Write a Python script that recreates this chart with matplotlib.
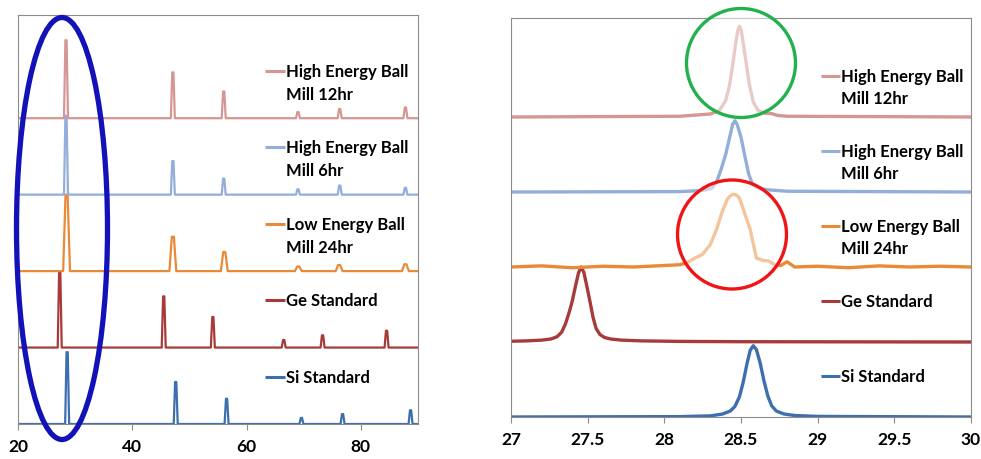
import numpy as np
import matplotlib
matplotlib.use("Agg")
import matplotlib.pyplot as plt
from matplotlib.patches import Ellipse

plt.rcParams["font.family"] = ["Lato", "DejaVu Sans"]
plt.rcParams["font.weight"] = "bold"

# ---- series (bottom to top) ----
labels = ["Si Standard", "Ge Standard", "Low Energy Ball\nMill 24hr",
          "High Energy Ball\nMill 6hr", "High Energy Ball\nMill 12hr"]
colors = ["#3D6FAE", "#A63B3A", "#E98A38", "#93AEDA", "#D69694"]
offsets = [0, 1, 2, 3, 4]

# left panel: full scan, peak positions (2θ) and heights
full_pos = [
    [28.6, 47.6, 56.5, 69.6, 76.8, 88.7],
    [27.3, 45.5, 54.1, 66.5, 73.3, 84.5],
    [28.5, 47.1, 56.1, 69.05, 76.2, 87.8],
    [28.4, 47.1, 56.0, 69.0, 76.3, 87.8],
    [28.4, 47.1, 56.0, 69.0, 76.3, 87.8],
]
full_hgt = [
    [0.94, 0.55, 0.33, 0.08, 0.13, 0.18],
    [1.00, 0.67, 0.40, 0.10, 0.16, 0.22],
    [1.00, 0.45, 0.25, 0.06, 0.08, 0.09],
    [1.03, 0.44, 0.21, 0.07, 0.12, 0.09],
    [1.02, 0.60, 0.35, 0.08, 0.12, 0.14],
]
full_hw = [0.35, 0.35, 0.6, 0.35, 0.35]

# right panel: zoom on the (111) peak
si_x = [27.0, 28.1, 28.3, 28.38, 28.43, 28.46, 28.49, 28.515, 28.54, 28.56,
        28.58, 28.60, 28.625, 28.65, 28.675, 28.7, 28.73, 28.78, 28.85, 29.0, 30.0]
si_y = [0.0, 0.005, 0.015, 0.04, 0.08, 0.14, 0.27, 0.47, 0.72, 0.89,
        0.95, 0.9, 0.72, 0.48, 0.28, 0.15, 0.08, 0.04, 0.02, 0.008, 0.0]
ge_x = [27.0, 27.1, 27.2, 27.26, 27.3, 27.33, 27.355, 27.38, 27.40, 27.42,
        27.44, 27.457, 27.475, 27.495, 27.515, 27.535, 27.555, 27.58, 27.61,
        27.65, 27.72, 27.85, 28.1, 28.5, 30.0]
ge_y = [0.01, 0.015, 0.025, 0.04, 0.07, 0.13, 0.24, 0.4, 0.55, 0.74,
        0.92, 1.0, 0.93, 0.74, 0.54, 0.33, 0.18, 0.1, 0.06,
        0.04, 0.025, 0.015, 0.008, 0.004, 0.0]
le24_x = [27.0, 27.2, 27.4, 27.6, 27.8, 28.0, 28.1, 28.15, 28.2, 28.25, 28.3,
          28.34, 28.38, 28.41, 28.43, 28.45, 28.47, 28.49, 28.52, 28.56, 28.6,
          28.64, 28.68, 28.72, 28.76, 28.8, 28.85, 29.0, 29.2, 29.4, 29.6,
          29.8, 30.0]
le24_y = [0.0, 0.015, -0.01, 0.01, 0.0, 0.02, 0.03, 0.06, 0.12, 0.17, 0.3,
          0.5, 0.75, 0.9, 0.95, 0.97, 0.96, 0.92, 0.74, 0.5, 0.12,
          0.09, 0.08, 0.03, 0.02, 0.07, 0.0, 0.01, -0.01, 0.015, 0.0,
          0.01, 0.0]
he6_x = [27.0, 28.1, 28.25, 28.31, 28.34, 28.37, 28.4, 28.425, 28.445, 28.46,
         28.475, 28.5, 28.525, 28.55, 28.575, 28.61, 28.67, 28.8, 30.0]
he6_y = [0.0, 0.005, 0.02, 0.05, 0.13, 0.3, 0.5, 0.72, 0.9, 0.95,
         0.9, 0.73, 0.48, 0.24, 0.1, 0.05, 0.03, 0.01, 0.0]
he12_x = [27.0, 28.1, 28.3, 28.36, 28.4, 28.425, 28.445, 28.465, 28.48, 28.49,
          28.5, 28.515, 28.535, 28.555, 28.58, 28.61, 28.66, 28.7, 28.74,
          28.8, 30.0]
he12_y = [0.0, 0.01, 0.04, 0.09, 0.22, 0.42, 0.68, 0.98, 1.16, 1.21,
          1.17, 0.98, 0.7, 0.43, 0.2, 0.09, 0.05, 0.045, 0.02,
          0.01, 0.0]
zoom_x = [si_x, ge_x, le24_x, he6_x, he12_x]
zoom_y = [si_y, ge_y, le24_y, he6_y, he12_y]

left_ticks = [20, 40, 60, 80]
right_ticks = [27, 27.5, 28, 28.5, 29, 29.5, 30]


def stick_trace(pos, hgt, hw, x0=20, x1=90):
    xs, ys = [x0], [0.0]
    for p, h in zip(pos, hgt):
        xs += [p - hw, p - 0.3 * hw, p + 0.3 * hw, p + hw]
        ys += [0.0, h, h, 0.0]
    xs.append(x1)
    ys.append(0.0)
    return np.array(xs), np.array(ys)


def style_axes(ax):
    for s in ax.spines.values():
        s.set_color("#8c8c8c")
    ax.set_yticks([])
    ax.tick_params(axis="x", direction="out", length=4, color="#8c8c8c",
                   labelsize=12.5, pad=6)


def add_labels(ax, lx0, lx1, up):
    tr = ax.get_yaxis_transform()
    for lab, c, off in zip(labels, colors, offsets):
        y = off + up
        ax.plot([lx0, lx1], [y, y], color=c, lw=2.2, transform=tr,
                clip_on=False, solid_capstyle="butt")
        for i, line in enumerate(lab.split("\n")):
            ax.text(lx1 + 0.003, y - i * 0.3, line, transform=tr,
                    ha="left", va="center", fontsize=12, fontweight="bold")


fig = plt.figure(figsize=(9.81, 4.6), dpi=100)

# ---- left: full pattern ----
ax1 = fig.add_axes([18 / 981, 1 - 425 / 460, 400 / 981, 409 / 460])
for pos, hgt, hw, c, off in zip(full_pos, full_hgt, full_hw, colors, offsets):
    x, y = stick_trace(pos, hgt, hw)
    ax1.plot(x, y + off, color=c, lw=1.6)
ax1.set_xlim(20, 90)
ax1.set_ylim(0, 5.35)
ax1.set_xticks(left_ticks)
style_axes(ax1)
add_labels(ax1, 0.6175, 0.6675, 0.62)

# ---- right: zoom on first peak ----
ax2 = fig.add_axes([511 / 981, 1 - 418 / 460, 460 / 981, 399 / 460])
for x, y, c, off in zip(zoom_x, zoom_y, colors, offsets):
    ax2.plot(x, np.array(y) + off, color=c, lw=2.4, solid_joinstyle="round")
ax2.set_xlim(27, 30)
ax2.set_ylim(0, 5.32)
ax2.set_xticks(right_ticks)
ax2.set_xticklabels([f"{t:g}" for t in right_ticks])
style_axes(ax2)
add_labels(ax2, 0.674, 0.715, 0.55)

# ---- hand-drawn highlight marks (pixel coordinates) ----
ov = fig.add_axes([0, 0, 1, 1], facecolor="none")
ov.set_xlim(0, 981)
ov.set_ylim(460, 0)
ov.axis("off")
ov.add_patch(Ellipse((62, 229.5), 91, 422, fill=False, ec="#1212B8", lw=3.8))
for (cx, cy), ec in [((741, 64), "#22B14C"), ((732, 235.5), "#F01414")]:
    ov.add_patch(Ellipse((cx, cy), 109, 109, fc=(1, 1, 1, 0.5), ec=ec, lw=2.4))

fig.savefig("out.png", dpi=100)
